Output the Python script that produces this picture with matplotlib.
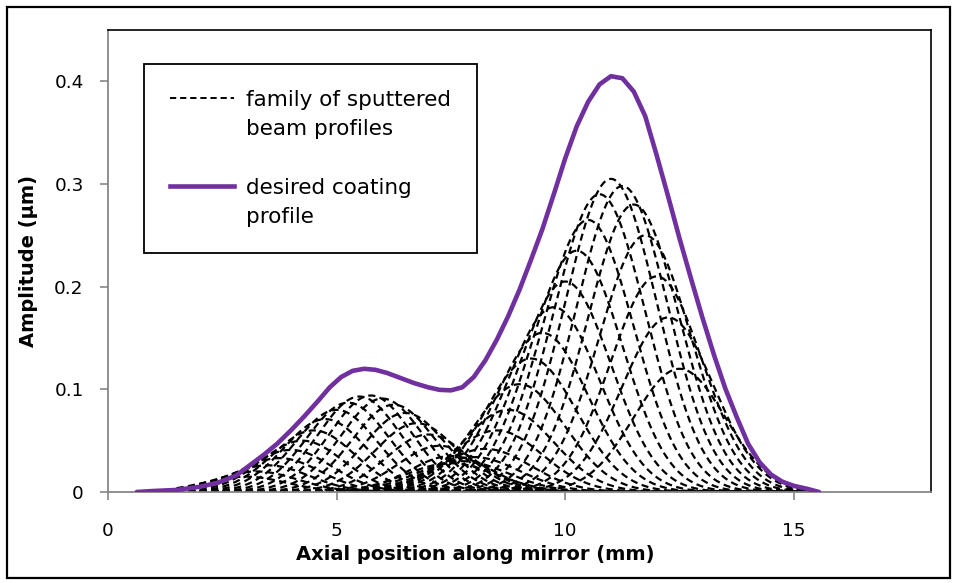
import numpy as np
import matplotlib
matplotlib.use("Agg")
import matplotlib.pyplot as plt
from matplotlib.lines import Line2D
from matplotlib.patches import Rectangle

# ---- data ----
# desired coating profile (purple), x in mm, amplitude in um
profile_x = [0.63, 1.0, 1.5, 2.0, 2.4, 2.8, 3.1, 3.4, 3.7, 4.0, 4.3, 4.6, 4.85, 5.1,
             5.35, 5.6, 5.85, 6.1, 6.4, 6.7, 7.0, 7.25, 7.5, 7.75, 8.0, 8.25, 8.5,
             8.75, 9.0, 9.25, 9.5, 9.75, 10.0, 10.25, 10.5, 10.75, 11.0, 11.25, 11.5,
             11.75, 12.0, 12.25, 12.5, 12.75, 13.0, 13.25, 13.5, 13.75, 14.0, 14.25,
             14.5, 14.75, 15.0, 15.3, 15.55]
profile_y = [0.0, 0.001, 0.002, 0.005, 0.009, 0.016, 0.026, 0.036, 0.047, 0.06, 0.074,
             0.089, 0.102, 0.112, 0.118, 0.12, 0.119, 0.116, 0.111, 0.106, 0.102,
             0.0995, 0.099, 0.102, 0.112, 0.128, 0.148, 0.171, 0.197, 0.226, 0.256,
             0.29, 0.325, 0.356, 0.38, 0.397, 0.405, 0.403, 0.39, 0.366, 0.328,
             0.288, 0.247, 0.208, 0.17, 0.134, 0.101, 0.073, 0.047, 0.029, 0.017,
             0.01, 0.006, 0.003, 0.0]

# family of sputtered beam profiles (Gaussian beams): centres, peak amplitudes, widths
beam_centers_1 = [3.0, 3.25, 3.5, 3.75, 4.0, 4.25, 4.5, 4.75, 5.0, 5.25, 5.5, 5.75,
                  6.0, 6.25, 6.5, 6.75, 7.0, 7.25, 7.5]
beam_amps_1 = [0.015, 0.02, 0.026, 0.033, 0.041, 0.05, 0.06, 0.071, 0.08, 0.087, 0.093,
               0.094, 0.091, 0.085, 0.077, 0.067, 0.056, 0.045, 0.035]
beam_sigma_1 = 0.9

beam_centers_2 = [7.5, 7.75, 8.0, 8.25, 8.5, 8.75, 9.0, 9.25, 9.5, 9.75, 10.0, 10.25,
                  10.5, 10.75, 11.0, 11.25, 11.5, 11.75, 12.0, 12.25, 12.5]
beam_amps_2 = [0.028, 0.03, 0.034, 0.042, 0.06, 0.08, 0.105, 0.13, 0.155, 0.18, 0.205,
               0.235, 0.265, 0.29, 0.305, 0.298, 0.28, 0.25, 0.21, 0.17, 0.12]
beam_sigma_2 = 1.0

x_ticks = [0, 5, 10, 15]
y_ticks = [0, 0.1, 0.2, 0.3, 0.4]
y_ticklabels = ["0", "0.1", "0.2", "0.3", "0.4"]

# ---- figure ----
plt.rcParams['font.family'] = ['DejaVu Sans']
fig = plt.figure(figsize=(9.57, 5.83), dpi=100)
ax = fig.add_axes([108 / 957, 1 - 492 / 583, (931 - 108) / 957, (492 - 30) / 583])

purple = '#7030A0'
dash = (0, (3.2, 2.0))
xs = np.linspace(1.5, 15.5, 600)
for centers, amps, sig in [(beam_centers_1, beam_amps_1, beam_sigma_1),
                           (beam_centers_2, beam_amps_2, beam_sigma_2)]:
    for c, a in zip(centers, amps):
        ax.plot(xs, a * np.exp(-(xs - c) ** 2 / (2 * sig ** 2)), color='black',
                lw=1.6, linestyle=dash, zorder=2)

ax.plot(profile_x, profile_y, color=purple, lw=3.3, zorder=3,
        solid_capstyle='round', solid_joinstyle='round')

ax.set_xlim(0, 18)
ax.set_ylim(0, 0.45)
ax.set_xticks(x_ticks)
ax.set_xticklabels([str(t) for t in x_ticks])
ax.set_yticks(y_ticks)
ax.set_yticklabels(y_ticklabels)

for s in ['top', 'right']:
    ax.spines[s].set_color('black')
    ax.spines[s].set_linewidth(1.2)
for s in ['left', 'bottom']:
    ax.spines[s].set_color('#868686')
    ax.spines[s].set_linewidth(1.3)

ax.tick_params(axis='both', direction='out', length=5.5, width=1.2, color='#868686',
               labelsize=13.3, labelcolor='black')
ax.tick_params(axis='y', pad=12)
ax.tick_params(axis='x', pad=16)

ax.set_xlabel('Axial position along mirror (mm)', fontsize=14, fontweight='bold')
ax.xaxis.set_label_coords(0.446, -0.135)
ax.xaxis.label.set_va('center')
ax.set_ylabel('Amplitude (µm)', fontsize=14, fontweight='bold')
ax.yaxis.set_label_coords(-0.096, 0.5)
ax.yaxis.label.set_va('center')

h_dash = Line2D([], [], color='black', lw=1.4, linestyle=dash)
h_blank = Line2D([], [], color='none')
h_purple = Line2D([], [], color=purple, lw=3.3)
leg = ax.legend([h_dash, h_blank, h_blank, h_purple, h_blank],
                ['family of sputtered', 'beam profiles', '', 'desired coating', 'profile'],
                loc='upper left', bbox_to_anchor=((144 - 108) / 823, 1 - (64 - 30) / 462),
                borderaxespad=0, frameon=True, fancybox=False, edgecolor='black',
                framealpha=1, fontsize=15.5, handlelength=3.0, handletextpad=0.56,
                borderpad=1.2, labelspacing=0.43)
leg.get_frame().set_linewidth(1.3)

fig.add_artist(Rectangle((7 / 957, 5 / 583), (950 - 7) / 957, (578 - 7) / 583,
                         transform=fig.transFigure, fill=False, ec='black', lw=1.6))

fig.savefig('out.png', dpi=100)
